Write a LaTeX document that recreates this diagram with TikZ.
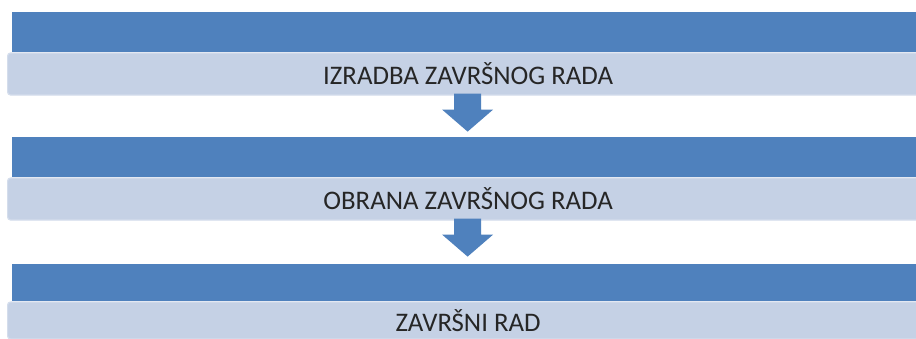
\documentclass[tikz,border=0pt]{standalone}
\usepackage{fontspec}
\setmainfont{Carlito}
\usetikzlibrary{positioning,calc}
\definecolor{bandblue}{HTML}{4F81BD}
\definecolor{boxblue}{HTML}{C5D1E5}
\definecolor{boxedge}{HTML}{D4DDEC}
\tikzset{
  band/.style={fill=bandblue, minimum width=920pt, minimum height=40pt, inner sep=0pt, anchor=north west},
  stepbox/.style={fill=boxblue, draw=boxedge, line width=1.2pt, rounded corners=3pt,
    minimum width=921pt, minimum height=42pt, inner sep=0pt, anchor=north west,
    font=\fontsize{26.8}{30}\selectfont, text=black!85},
}
\begin{document}
\begin{tikzpicture}[x=1pt,y=1pt]
\useasboundingbox (0,0) rectangle (916,-338);
\clip (0,0) rectangle (916,-338);
\fill[white] (0,0) rectangle (916,-338);
% first stage
\node[band] (band1) at (12,-12) {};
\node[stepbox, xshift=-5pt] (box1) at (band1.south west) {IZRADBA ZAVRŠNOG RADA};
% second stage
\node[band] (band2) at (12,-137) {};
\node[stepbox, xshift=-5pt] (box2) at (band2.south west) {OBRANA ZAVRŠNOG RADA};
% third stage
\node[band, minimum height=37pt] (band3) at (12,-264) {};
\node[stepbox, minimum height=37pt, xshift=-5pt] (box3) at (band3.south west) {ZAVRŠNI RAD};
% arrows between stages
\fill[bandblue] ($(box1.south)+(-14,2)$) -- ++(27,0) -- ++(0,-16) -- ++(12,0)
  -- ++(-25.5,-22) -- ++(-25.5,22) -- ++(12,0) -- cycle;
\fill[bandblue] ($(box2.south)+(-14,2)$) -- ++(27,0) -- ++(0,-16) -- ++(12,0)
  -- ++(-25.5,-22) -- ++(-25.5,22) -- ++(12,0) -- cycle;
\end{tikzpicture}
\end{document}
